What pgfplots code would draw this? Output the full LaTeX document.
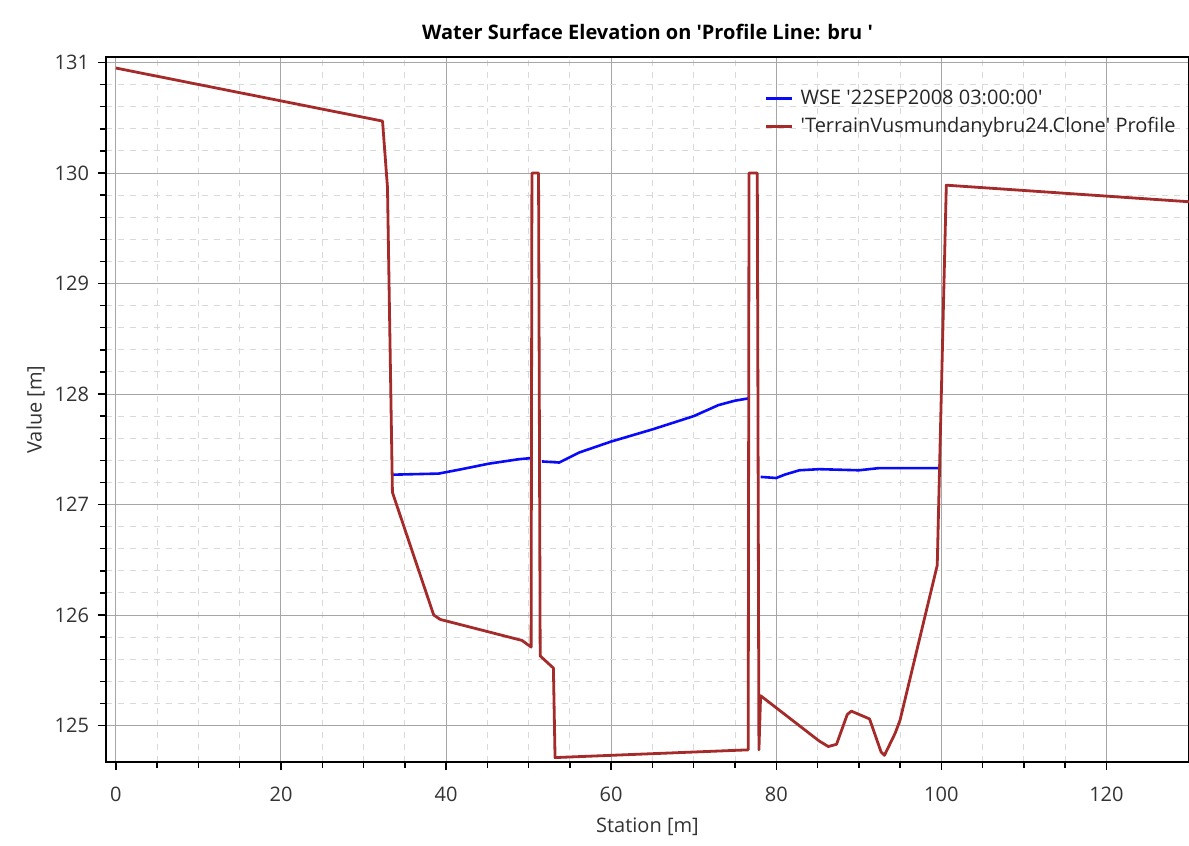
\documentclass[border=0pt]{standalone}
\usepackage{fontspec}
\setmainfont{Open Sans}
\usepackage{pgfplots}
\pgfplotsset{compat=1.18}
\definecolor{terrain}{RGB}{165,42,42}
\definecolor{wse}{RGB}{10,10,250}
\newcommand{\q}{\textquotesingle}
\begin{document}
\begin{tikzpicture}[x=1pt,y=1pt]
\path[use as bounding box] (-53,-42) rectangle (541.5,381);
\begin{axis}[
    at={(0,0)}, anchor=south west,
    scale only axis, width=541.5pt, height=352.5pt,
    xmin=-1.2, xmax=130, ymin=124.67, ymax=131.05,
    xtick={0,20,...,120}, minor x tick num=3,
    ytick={125,126,...,131}, minor y tick num=4,
    grid=both,
    major grid style={black!35, line width=0.5pt},
    minor grid style={black!15, dashed, line width=0.5pt},
    tick align=outside, tick pos=left,
    major tick length=4pt, minor tick length=3pt,
    every tick/.style={black, line width=0.7pt},
    axis line style={black, line width=0.8pt},
    /pgf/number format/assume math mode=true,
    /pgf/number format/1000 sep={},
    tick label style={font=\fontsize{10}{12}\selectfont, text=black!80},
    xticklabel style={yshift=-5pt},
    yticklabel style={xshift=-1pt},
    label style={font=\fontsize{10}{12}\selectfont, text=black!80},
    xlabel style={yshift=-1pt},
    ylabel style={yshift=-2pt},
    xlabel={Station [m]}, ylabel={Value [m]},
    title={Water Surface Elevation on \q Profile Line: bru \q},
    title style={font=\bfseries\fontsize{10}{12}\selectfont, yshift=-1pt},
    unbounded coords=jump,
    legend cell align=left,
    legend style={at={(0.608,0.96)}, anchor=north west, draw=none, fill=none,
        font=\fontsize{10}{12}\selectfont, text=black!85, row sep=1pt, inner sep=0pt,
        nodes={inner xsep=3.5pt}},
    legend image code/.code={\draw[#1] (0pt,0pt) -- (13pt,0pt);},
]
\addplot[wse, line width=1.3pt] coordinates {
(33.5,127.27) (39.1,127.28) (41.9,127.32) (45.2,127.37) (48.8,127.41) (50.3,127.42)
(50.9,nan)
(51.6,127.39) (53.7,127.38) (56.1,127.47) (60,127.57) (65,127.68) (70,127.80)
(73,127.90) (75,127.94) (76.6,127.96)
(77.3,nan)
(78.1,127.25) (80,127.24) (81,127.27) (82.8,127.31) (85.2,127.32) (90,127.31)
(92.5,127.33) (99.7,127.33)
};
\addlegendentry{WSE \q 22SEP2008 03:00:00\q}
\addplot[terrain, line width=1.4pt, line join=round] coordinates {
(0,130.95) (32.3,130.47) (32.9,129.87) (33.5,127.11) (38.5,126.0) (39.3,125.96)
(49.2,125.77) (50.3,125.71) (50.4,130.0) (51.2,130.0) (51.4,125.63) (53.0,125.52)
(53.2,124.71) (76.6,124.78) (76.7,130.0) (77.7,130.0) (77.9,124.78) (78.1,125.27)
(85.2,124.86) (86.3,124.81) (87.3,124.83) (88.6,125.1) (89.1,125.13) (91.3,125.06)
(92.7,124.76) (93.1,124.73) (94.4,124.93) (95.0,125.05) (99.5,126.45) (100.6,129.89)
(130,129.74)
};
\addlegendentry{\q TerrainVusmundanybru24.Clone\q{} Profile}
\end{axis}
\end{tikzpicture}
\end{document}
